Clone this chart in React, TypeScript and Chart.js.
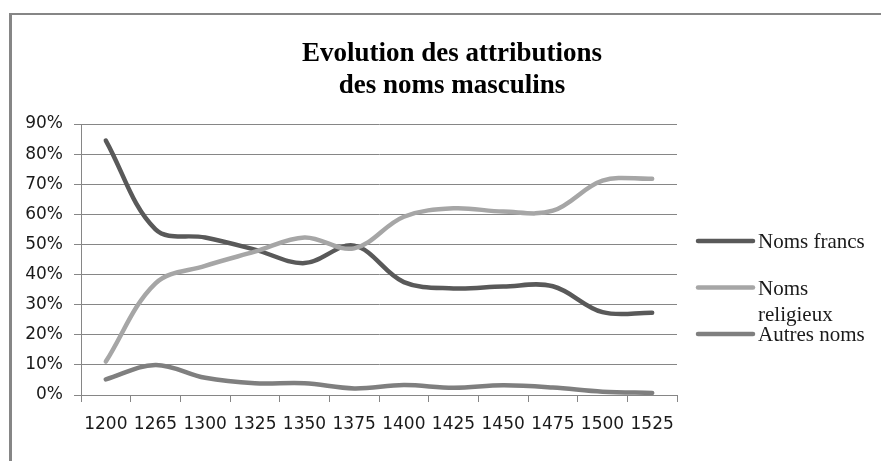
import React, { useEffect, useRef } from 'react';
import { Chart, registerables } from 'chart.js';

Chart.register(...registerables);

const categories = ['1200', '1265', '1300', '1325', '1350', '1375', '1400', '1425', '1450', '1475', '1500', '1525'];
const nomsFrancs = [84.5, 55, 52.3, 48.3, 43.8, 49.6, 37.5, 35.4, 36, 36.1, 27.5, 27.3];
const nomsReligieux = [11.1, 37.1, 42.9, 47.6, 52.3, 48.7, 59.2, 62, 60.9, 61.2, 71.2, 71.8];
const autresNoms = [5.2, 10, 5.7, 3.9, 3.9, 2.2, 3.3, 2.4, 3.2, 2.5, 1.1, 0.7];
const seriesNames = ['Noms francs', 'Noms religieux', 'Autres noms'];
const seriesColors = ['#595959', '#a6a6a6', '#7f7f7f'];
const titleLines = ['Evolution des attributions', 'des noms masculins'];

export default function App() {
  const ref = useRef<HTMLCanvasElement>(null);

  useEffect(() => {
    const canvas = ref.current;
    if (!canvas) return;

    const framePlugin = {
      id: 'frame',
      beforeDraw(chart: any) {
        const { ctx, width, height } = chart;
        ctx.save();
        ctx.fillStyle = '#ffffff';
        ctx.fillRect(0, 0, width, height);
        ctx.fillStyle = '#868686';
        ctx.fillRect(10, 13, width - 10, 2);
        ctx.fillRect(9, 13, 3, height - 13);
        ctx.restore();
      },
    };

    const titlePlugin = {
      id: 'customTitle',
      afterDraw(chart: any) {
        const { ctx } = chart;
        ctx.save();
        ctx.fillStyle = '#000000';
        ctx.font = 'bold 27px "Liberation Serif", "Times New Roman", serif';
        ctx.textAlign = 'center';
        ctx.textBaseline = 'alphabetic';
        titleLines.forEach((line, i) => {
          ctx.fillText(line, 452, 61 + i * 32);
        });
        ctx.restore();
      },
    };

    const legendPlugin = {
      id: 'customLegend',
      afterDraw(chart: any) {
        const { ctx, chartArea, width } = chart;
        ctx.save();
        ctx.font = '21px "Liberation Serif", "Times New Roman", serif';
        ctx.fillStyle = '#1a1a1a';
        ctx.textAlign = 'left';
        ctx.textBaseline = 'alphabetic';
        const lineX0 = chartArea.right + 21;
        const lineX1 = lineX0 + 55;
        const textX = lineX1 + 5;
        const maxW = width - textX - 2;
        chart.data.datasets.forEach((ds: any, i: number) => {
          const y = 241 + i * 46.5;
          ctx.strokeStyle = ds.borderColor;
          ctx.lineWidth = 4.5;
          ctx.lineCap = 'round';
          ctx.beginPath();
          ctx.moveTo(lineX0, y);
          ctx.lineTo(lineX1, y);
          ctx.stroke();
          const words = String(ds.label).split(' ');
          const lines: string[] = [];
          let cur = '';
          words.forEach((w) => {
            const test = cur ? cur + ' ' + w : w;
            if (cur && ctx.measureText(test).width > maxW) {
              lines.push(cur);
              cur = w;
            } else {
              cur = test;
            }
          });
          if (cur) lines.push(cur);
          lines.forEach((l, k) => ctx.fillText(l, textX, y + 7 + k * 26));
        });
        ctx.restore();
      },
    };

    const chart = new Chart(canvas, {
      type: 'line',
      data: {
        labels: categories,
        datasets: [
          { label: seriesNames[0], data: nomsFrancs, borderColor: seriesColors[0], order: 3 },
          { label: seriesNames[1], data: nomsReligieux, borderColor: seriesColors[1], order: 2 },
          { label: seriesNames[2], data: autresNoms, borderColor: seriesColors[2], order: 1 },
        ].map((d) => ({
          ...d,
          backgroundColor: d.borderColor,
          borderWidth: 4.5,
          tension: 0.36,
          pointRadius: 0,
          pointHoverRadius: 0,
          borderCapStyle: 'round' as const,
          borderJoinStyle: 'round' as const,
          fill: false,
        })),
      },
      options: {
        responsive: false,
        animation: false,
        layout: { padding: { left: 0, top: 124, right: 204, bottom: 0 } },
        plugins: {
          legend: { display: false },
          title: { display: false },
          tooltip: { enabled: false },
        },
        scales: {
          x: {
            offset: true,
            grid: {
              offset: true,
              drawOnChartArea: false,
              drawTicks: true,
              tickLength: 7,
              color: '#868686',
              lineWidth: 1,
            },
            border: { display: true, color: '#868686', width: 1 },
            ticks: {
              autoSkip: false,
              maxRotation: 0,
              minRotation: 0,
              padding: 12,
              color: '#1a1a1a',
              font: { family: '"DejaVu Sans", Verdana, sans-serif', size: 17 },
            },
            afterFit(scale: any) {
              scale.height = 66;
            },
          },
          y: {
            min: 0,
            max: 90,
            grid: {
              drawTicks: true,
              tickLength: 7,
              color: '#868686',
              lineWidth: 1,
            },
            border: { display: true, color: '#868686', width: 1 },
            ticks: {
              stepSize: 10,
              padding: 11,
              color: '#1a1a1a',
              font: { family: '"DejaVu Sans", Verdana, sans-serif', size: 17 },
              callback: (v: any) => `${v}%`,
            },
            afterFit(scale: any) {
              scale.width = 81;
            },
          },
        },
      },
      plugins: [framePlugin, titlePlugin, legendPlugin],
    });

    return () => chart.destroy();
  }, []);

  return (
    <div style={{ position: 'absolute', left: 0, top: 0, width: 881, height: 461 }}>
      <canvas ref={ref} width={881} height={461} style={{ width: 881, height: 461, display: 'block' }} />
    </div>
  );
}
